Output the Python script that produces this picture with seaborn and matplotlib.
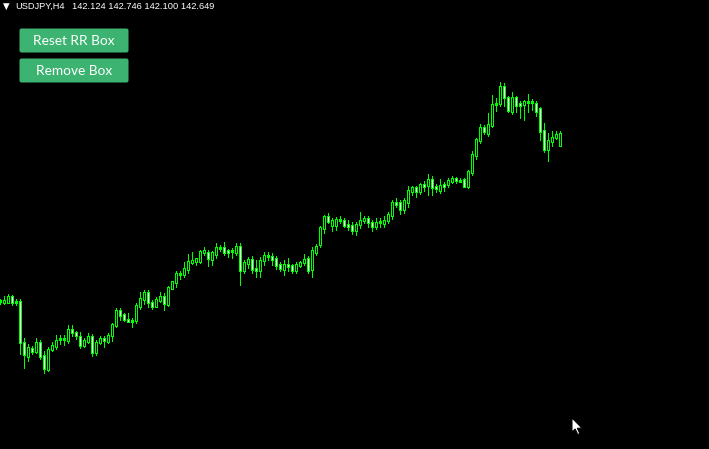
import numpy as np
import pandas as pd
import seaborn as sns
import matplotlib.pyplot as plt
from matplotlib.patches import FancyBboxPatch, Polygon

# USDJPY H4 candles (oldest -> newest)
opens = [
    135.256, 135.212, 135.212, 135.476, 135.256, 135.256, 133.452, 132.836, 133.188, 133.056,
    133.452, 132.880, 132.264, 133.144, 133.276, 133.584, 133.628, 133.540, 134.024, 133.892,
    133.716, 133.320, 133.496, 133.716, 133.012, 133.452, 133.628, 133.496, 133.760, 134.200,
    134.860, 134.684, 134.464, 134.420, 134.420, 135.036, 135.344, 135.652, 135.212, 135.036,
    135.300, 135.476, 135.124, 135.828, 136.092, 136.444, 136.444, 136.664, 136.972, 137.016,
    137.016, 137.412, 137.412, 137.104, 137.324, 137.588, 137.632, 137.500, 137.456, 137.412,
    137.676, 136.620, 136.928, 137.104, 136.708, 136.620, 137.060, 137.280, 137.236, 137.148,
    136.884, 136.664, 136.884, 136.840, 136.620, 136.840, 136.972, 137.148, 136.664, 137.412,
    137.764, 138.468, 138.996, 138.600, 138.600, 138.820, 138.820, 138.644, 138.600, 138.380,
    138.644, 138.820, 138.908, 138.732, 138.556, 138.732, 138.688, 138.820, 139.040, 139.612,
    139.612, 139.304, 139.612, 140.096, 140.272, 140.096, 140.404, 140.360, 140.624, 140.316,
    140.140, 140.404, 140.404, 140.536, 140.668, 140.580, 140.624, 140.316, 140.932, 141.680,
    142.340, 142.912, 142.648, 143.000, 143.924, 143.968, 144.716, 144.232, 143.616, 144.232,
    143.968, 143.924, 144.056, 144.056, 143.968, 143.748, 142.780, 141.944, 142.296, 142.472,
    142.124,
]
highs = [
    135.344, 135.476, 135.564, 135.520, 135.344, 135.344, 133.628, 133.364, 133.276, 133.628,
    133.540, 133.056, 133.232, 133.452, 133.760, 133.760, 133.760, 134.200, 134.200, 133.936,
    133.892, 133.628, 133.848, 133.804, 133.540, 133.716, 133.716, 133.848, 134.288, 134.948,
    134.948, 134.728, 134.728, 134.508, 135.168, 135.652, 135.740, 135.740, 135.300, 135.432,
    135.652, 135.608, 135.916, 136.136, 136.576, 136.576, 136.972, 137.324, 137.412, 137.148,
    137.500, 137.632, 137.500, 137.456, 137.808, 137.720, 137.852, 137.544, 137.588, 137.808,
    137.808, 137.060, 137.192, 137.236, 137.060, 137.192, 137.412, 137.412, 137.368, 137.236,
    136.972, 137.060, 137.148, 136.884, 136.972, 137.016, 137.324, 137.236, 137.632, 137.764,
    138.556, 139.040, 139.128, 138.908, 138.952, 138.996, 138.908, 138.820, 138.732, 138.732,
    139.172, 138.996, 138.996, 138.820, 138.908, 138.908, 138.996, 139.172, 139.700, 139.788,
    139.700, 139.788, 140.316, 140.316, 140.316, 140.448, 140.536, 140.844, 140.756, 140.404,
    140.624, 140.492, 140.668, 140.756, 140.712, 140.668, 140.668, 141.020, 141.856, 142.428,
    143.044, 143.000, 143.528, 144.320, 144.188, 144.892, 144.848, 144.276, 144.452, 144.276,
    144.056, 144.100, 144.364, 144.144, 144.056, 143.792, 143.088, 142.648, 142.736, 142.736,
    142.746,
]
lows = [
    135.168, 135.168, 135.212, 135.124, 135.124, 132.968, 132.352, 132.660, 132.968, 133.012,
    132.748, 132.132, 132.220, 133.100, 133.188, 133.408, 133.364, 133.452, 133.760, 133.628,
    133.232, 133.276, 133.452, 132.880, 132.924, 133.408, 133.276, 133.452, 133.540, 134.156,
    134.464, 134.420, 134.376, 134.156, 134.332, 134.948, 135.168, 135.036, 134.948, 135.036,
    135.256, 134.904, 135.080, 135.828, 135.916, 136.268, 136.356, 136.532, 136.928, 136.884,
    136.972, 137.324, 136.840, 136.884, 137.192, 137.500, 137.324, 137.236, 137.192, 137.324,
    136.004, 136.532, 136.752, 136.532, 136.356, 136.356, 136.884, 137.104, 136.884, 136.708,
    136.620, 136.444, 136.620, 136.532, 136.532, 136.796, 136.884, 136.532, 136.356, 137.324,
    137.676, 138.292, 138.732, 138.380, 138.424, 138.732, 138.556, 138.424, 138.248, 138.204,
    138.512, 138.732, 138.556, 138.380, 138.468, 138.556, 138.556, 138.732, 138.908, 139.436,
    139.128, 139.172, 139.436, 139.964, 139.876, 140.008, 140.140, 139.964, 139.964, 140.096,
    140.052, 140.140, 140.316, 140.492, 140.492, 140.536, 140.316, 140.272, 140.844, 141.548,
    142.252, 142.648, 142.560, 142.956, 143.660, 143.880, 143.880, 143.616, 143.528, 143.616,
    143.352, 143.264, 143.616, 143.704, 143.440, 142.384, 141.856, 141.460, 142.120, 142.428,
    142.100,
]
closes = [
    135.300, 135.300, 135.476, 135.212, 135.212, 133.452, 132.924, 133.232, 133.056, 133.452,
    132.836, 132.308, 133.144, 133.320, 133.540, 133.628, 133.584, 134.024, 133.892, 133.760,
    133.320, 133.540, 133.716, 133.012, 133.452, 133.628, 133.540, 133.760, 134.244, 134.860,
    134.640, 134.464, 134.376, 134.376, 135.080, 135.388, 135.652, 135.212, 135.036, 135.344,
    135.476, 135.168, 135.872, 136.136, 136.488, 136.488, 136.708, 137.016, 137.060, 137.148,
    137.456, 137.500, 137.148, 137.412, 137.632, 137.632, 137.412, 137.412, 137.500, 137.676,
    136.620, 136.972, 137.104, 136.664, 136.620, 137.060, 137.280, 137.236, 137.104, 136.840,
    136.708, 136.884, 136.796, 136.620, 136.884, 136.972, 137.104, 136.620, 137.500, 137.676,
    138.512, 138.996, 138.776, 138.820, 138.864, 138.864, 138.600, 138.556, 138.380, 138.644,
    138.820, 138.908, 138.732, 138.556, 138.732, 138.776, 138.820, 139.084, 139.612, 139.524,
    139.304, 139.700, 140.140, 140.272, 140.096, 140.404, 140.316, 140.624, 140.272, 140.228,
    140.360, 140.316, 140.580, 140.668, 140.580, 140.536, 140.316, 140.976, 141.724, 142.384,
    142.912, 142.736, 143.044, 143.924, 143.968, 144.716, 144.232, 143.660, 144.232, 143.880,
    143.880, 144.056, 144.012, 144.012, 143.616, 142.736, 141.944, 142.340, 142.472, 142.604,
    142.649,
]
symbol = "USDJPY,H4"
buttons = ["Reset RR Box", "Remove Box"]

df = pd.DataFrame({"open": opens, "high": highs, "low": lows, "close": closes})
df["bar"] = np.arange(len(df))
df["bull"] = df["close"] >= df["open"]
df["top"] = df[["open", "close"]].max(axis=1)
df["bot"] = df[["open", "close"]].min(axis=1)

LIME = "#00ff00"
BTN = "#3cb371"
PX = 72 / 100          # one pixel in points at dpi 100
YPX = 0.044            # price per screen pixel

sns.set_theme(style="dark", rc={"figure.facecolor": "black", "axes.facecolor": "black",
                                "savefig.facecolor": "black"})
plt.rcParams["font.family"] = ["Liberation Sans", "DejaVu Sans"]

fig = plt.figure(figsize=(7.09, 4.49), dpi=100)
ax = fig.add_axes([0, 0, 1, 1])

line_kw = dict(antialiased=False, capstyle="butt")
# wicks (1 px)
ax.vlines(df["bar"], df["low"] - YPX * 0.45, df["high"] + YPX * 0.45, colors=LIME, lw=PX,
          zorder=1, **line_kw)
# bodies: 3 px lime stroke
ax.vlines(df["bar"], df["bot"] - YPX * 0.45, df["top"] + YPX * 0.45, colors=LIME, lw=3 * PX,
          zorder=2, **line_kw)
# 1 px fill inside: black for bull, white for bear
inner = df[df["top"] - df["bot"] > YPX * 1.5]
for bull, sub in inner.groupby("bull"):
    ax.vlines(sub["bar"], sub["bot"] + YPX * 0.55, sub["top"] - YPX * 0.55,
              colors="black" if bull else "white", lw=PX, zorder=3, **line_kw)

ax.set_xlim(0.125, 0.125 + 709 / 4)
ax.set_ylim(148.5 + YPX / 2 - YPX * 449, 148.5 + YPX / 2)
ax.set_axis_off()

# overlay in screen pixels for the terminal UI
ui = fig.add_axes([0, 0, 1, 1])
ui.set_xlim(0, 709)
ui.set_ylim(449, 0)
ui.set_axis_off()
ui.patch.set_alpha(0)

last = df.iloc[-1]
ui.text(2.5, 6.5, "▼", color="white", fontsize=6.2, va="center", ha="left", family="DejaVu Sans")
ui.text(15, 6.5, symbol, color="white", fontsize=6.7, va="center", ha="left")
ui.text(72, 6.5, "{:.3f} {:.3f} {:.3f} {:.3f}".format(last["open"], last["high"], last["low"], last["close"]),
        color="white", fontsize=6.7, va="center", ha="left")

for k, label in enumerate(buttons):
    top = 28 + 30 * k
    ui.add_patch(FancyBboxPatch((19.5, top + 0.5), 109, 24, boxstyle="round,pad=0,rounding_size=2",
                                fc=BTN, ec="none"))
    ui.text(74, top + 13, label, color="white", fontsize=9.8, ha="center", va="center",
            family=["Lato", "DejaVu Sans"])

# mouse pointer
cur = np.array([[0, 0], [0, 14], [3.2, 11], [5.8, 16.5], [7.8, 15.6], [5.3, 10.2], [10, 10.2]])
ui.add_patch(Polygon(cur + [572, 418], closed=True, fc="white", ec="black", lw=PX))

plt.savefig("out.png", dpi=100)
